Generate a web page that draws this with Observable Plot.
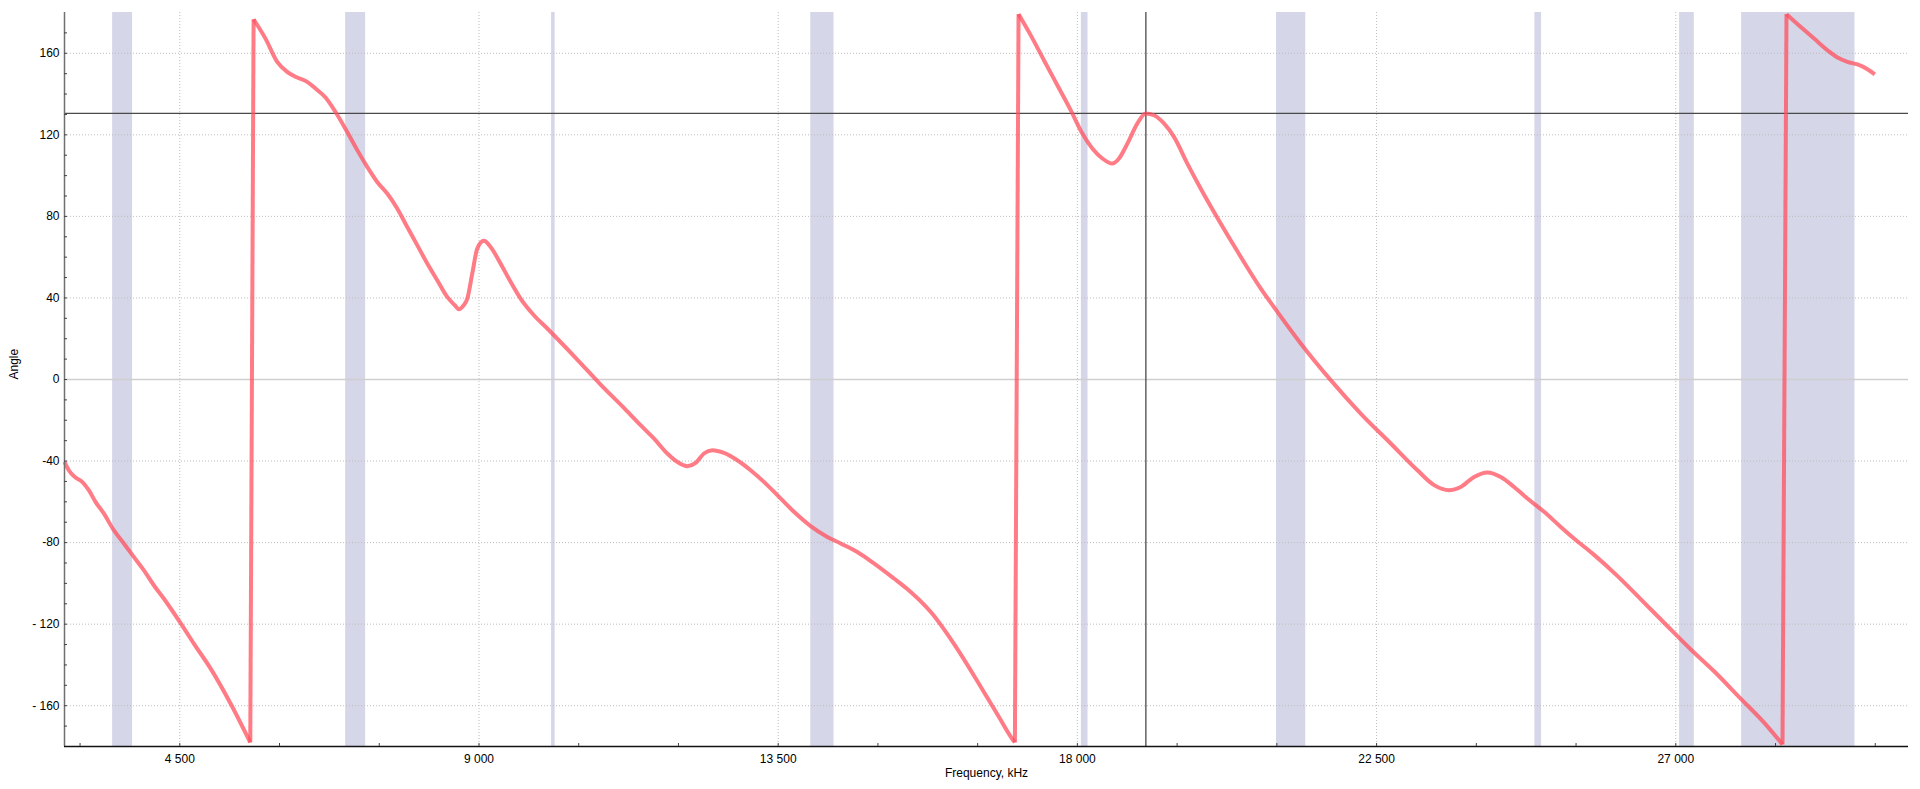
<!DOCTYPE html>
<html>
<head>
<meta charset="utf-8">
<script src="https://cdn.jsdelivr.net/npm/d3@7"></script>
<script src="https://cdn.jsdelivr.net/npm/@observablehq/plot@0.6"></script>
<style>
  html, body { margin: 0; padding: 0; background: #ffffff; }
  #chart { width: 1920px; height: 789px; }
</style>
</head>
<body>
<div id="chart"></div>
<script>
// ---- data ----
const freqKHz = [
  2766, 2830, 2931, 3032, 3131, 3232, 3357, 3507, 3658, 3808, 3958, 4109, 4259, 4500, 4711, 4962, 5263, 5560,
  5610, 5789, 5965, 6115, 6266, 6416, 6541, 6692, 6842, 7018, 7169, 7319, 7469, 7620, 7770, 7921, 8071, 8222,
  8372, 8522, 8640, 8700, 8760, 8823, 8899, 8974, 9073, 9174, 9324, 9475, 9625, 9826, 10027, 10460, 10829, 11197,
  11430, 11630, 11832, 11982, 12133, 12258, 12383, 12509, 12684, 12885, 13085, 13285, 13487, 13737, 13988,
  14239, 14439, 14690, 14940, 15241, 15433, 15802, 16171, 16539, 16816, 17017, 17060,
  17115, 17297, 17497, 17699, 17899, 18075, 18225, 18376, 18526, 18626, 18752, 18903, 19027, 19152, 19302,
  19453, 19654, 19854, 20039, 20406, 20759, 21008, 21359, 21810, 22261, 22713, 23114, 23365, 23590, 23766,
  23966, 24167, 24367, 24568, 24769, 25019, 25270, 25470, 25750, 26117, 26486, 26854, 27222, 27591, 27960,
  28328, 28605,
  28665, 28880, 29080, 29281, 29432, 29582, 29733, 29883, 29993
];
const angleDeg = [
  -40.4, -44.5, -48.1, -50.2, -54.3, -60.0, -65.7, -73.9, -80.4, -87.0, -93.5, -100.9, -107.4, -118.9, -129.5, -141.7, -158.9, -178,
  176.7, 167.2, 155.8, 150.9, 148.1, 146.0, 142.7, 138.3, 131.2, 121.4, 112.5, 104.3, 96.9, 91.2, 83.9, 74.8, 65.9, 56.9,
  48.7, 40.5, 36.3, 34.4, 36.0, 39.5, 52.0, 64.2, 68.0, 65.0, 56.9, 47.9, 39.7, 31.5, 25.0, 10.4, -2.5, -14.5,
  -22.4, -28.9, -36.3, -40.4, -42.5, -40.9, -36.3, -34.7, -36.0, -39.6, -44.5, -50.2, -56.7, -64.9, -71.9,
  -77.2, -80.4, -84.6, -90.2, -97.6, -102.5, -114.3, -131.0, -150.3, -165.3, -176.1, -178,
  179.2, 168.9, 156.6, 144.3, 132.1, 120.6, 113.3, 108.4, 105.9, 108.4, 115.7, 125.6, 130.5, 129.6, 125.6,
  119.0, 105.9, 93.7, 83.0, 62.9, 44.6, 33.2, 17.7, -0.3, -16.7, -31.4, -44.5, -51.8, -54.3, -52.7,
  -47.8, -45.6, -47.8, -52.7, -58.4, -64.9, -72.3, -78.0, -85.4, -96.2, -108.2, -120.3, -132.3, -143.6, -156.0,
  -168.3, -179,
  179.2, 172.9, 167.2, 161.5, 157.9, 155.8, 154.5, 152.2, 149.7
];
const bandStart = [3490, 6995, 10092, 13990, 18060, 20994, 24881, 27057, 27990];
const bandEnd   = [3790, 7295, 10145, 14340, 18160, 21435, 24981, 27278, 29695];

const xTicks = [4500, 9000, 13500, 18000, 22500, 27000];
const xTickLabels = ["4 500", "9 000", "13 500", "18 000", "22 500", "27 000"];
const xMinorTicks = [3000, 4500, 6000, 7500, 9000, 10500, 12000, 13500, 15000, 16500, 18000, 19500, 21000,
  22500, 24000, 25500, 27000, 28500, 30000];
const yTicks = [-160, -120, -80, -40, 0, 40, 80, 120, 160];
const yTickLabels = ["- 160", "- 120", "-80", "-40", "0", "40", "80", "120", "160"];
const yMinorTicks = [-170, -160, -150, -140, -130, -120, -110, -100, -90, -80, -70, -60, -50, -40, -30, -20, -10,
  0, 10, 20, 30, 40, 50, 60, 70, 80, 90, 100, 110, 120, 130, 140, 150, 160, 170];
const xDomain = [2766, 30500];
const yDomain = [-180, 180];
const cursorFreq = 19030;
const cursorAngle = 130.5;
const xLabel = "Frequency, kHz";
const yLabel = "Angle";

// ---- tables built from the arrays ----
let seg = 0;
const points = freqKHz.map((f, i) => {
  if (i > 0 && angleDeg[i] - angleDeg[i - 1] > 180) seg++;
  return {f, a: angleDeg[i], seg};
});
// the wrap-around jumps: last point of one segment joined to first point of the next
const jumps = [];
points.forEach((p, i) => {
  if (i > 0 && p.seg !== points[i - 1].seg) {
    jumps.push({f: points[i - 1].f, a: points[i - 1].a, j: p.seg});
    jumps.push({f: p.f, a: p.a, j: p.seg});
  }
});
const bands = bandStart.map((s, i) => ({start: s, end: bandEnd[i]}));

const lineColor = "#ff4f5e";
const chart = Plot.plot({
  width: 1920,
  height: 789,
  marginLeft: 64,
  marginRight: 12,
  marginTop: 12,
  marginBottom: 43,
  style: {fontFamily: "'Liberation Sans', Arial, sans-serif", fontSize: "12px", background: "#ffffff", color: "#000"},
  x: {domain: xDomain},
  y: {domain: yDomain},
  marks: [
    Plot.rect(bands, {x1: "start", x2: "end", fill: "#d5d6e8"}),
    Plot.gridY(yTicks.filter(d => d !== 0), {stroke: "#bdbdbd", strokeOpacity: 1, strokeDasharray: "1,2"}),
    Plot.gridX(xTicks, {stroke: "#bdbdbd", strokeOpacity: 1, strokeDasharray: "1,2"}),
    Plot.ruleY([0], {stroke: "#cfcfcf", strokeWidth: 1.5}),
    Plot.ruleY([cursorAngle], {stroke: "#4a4a4a", strokeWidth: 1.3}),
    Plot.ruleX([cursorFreq], {stroke: "#4a4a4a", strokeWidth: 1.3}),
    Plot.line(points, {x: "f", y: "a", z: "seg", stroke: lineColor, strokeOpacity: 0.75, strokeWidth: 4, curve: "monotone-x", strokeLinecap: "butt"}),
    Plot.line(jumps, {x: "f", y: "a", z: "j", stroke: lineColor, strokeOpacity: 0.75, strokeWidth: 4, strokeLinecap: "butt"}),
    Plot.ruleX([xDomain[0]], {stroke: "#707070", strokeWidth: 1.5}),
    Plot.ruleY([yDomain[0]], {stroke: "#111111", strokeWidth: 1.5}),
    Plot.axisY(yMinorTicks, {tickSize: 3, dx: 3, tickFormat: () => "", label: null, stroke: "#444"}),
    Plot.axisX(xMinorTicks, {tickSize: 3, dy: -3, tickFormat: () => "", label: null, stroke: "#444"}),
    Plot.axisY(yTicks, {tickSize: 0, tickPadding: 5, tickFormat: d => yTickLabels[yTicks.indexOf(d)], label: null, fontSize: 12, fill: "#000"}),
    Plot.axisX(xTicks, {tickSize: 0, tickPadding: 8, tickFormat: d => xTickLabels[xTicks.indexOf(d)], label: null, fontSize: 12, fill: "#000"}),
    Plot.text([yLabel], {text: d => d, frameAnchor: "left", dx: -50, rotate: -90, fontSize: 12, fill: "#000"}),
    Plot.text([xLabel], {text: d => d, frameAnchor: "bottom", dy: 30, fontSize: 12, fill: "#000"})
  ]
});
document.getElementById("chart").appendChild(chart);
</script>
</body>
</html>
